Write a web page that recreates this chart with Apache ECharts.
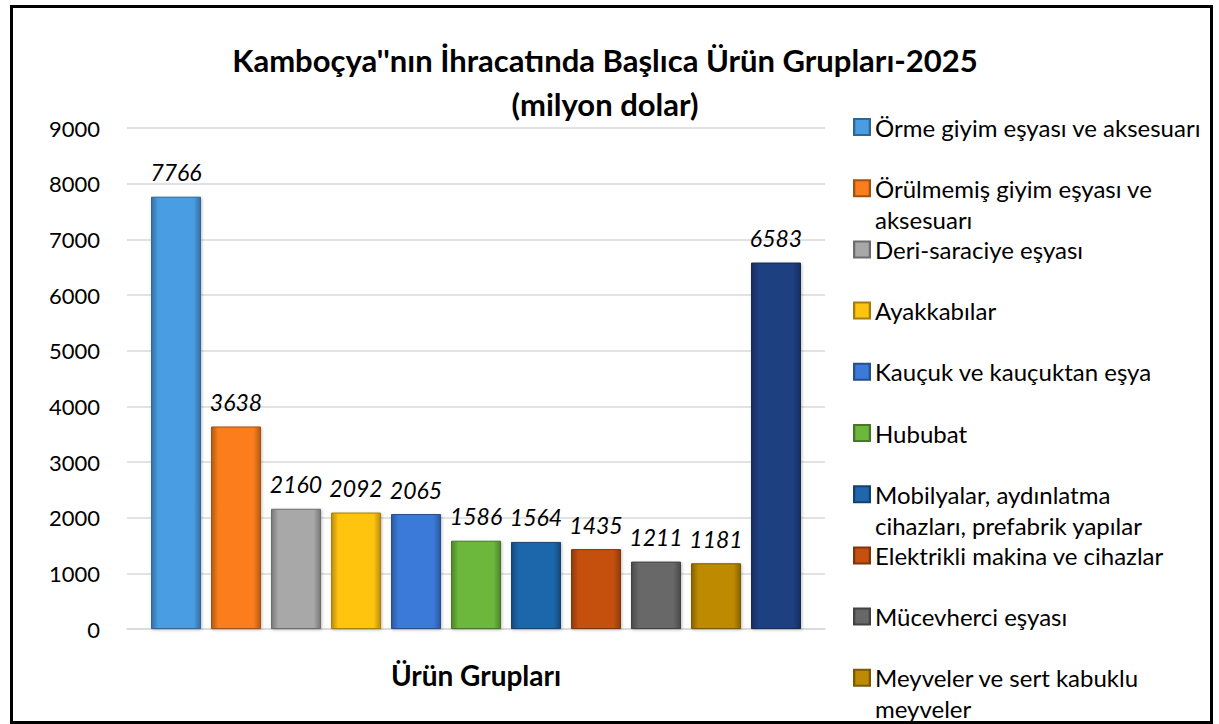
<!DOCTYPE html>
<html>
<head>
<meta charset="utf-8">
<title>Kamboçya ihracatı 2025</title>
<script src="https://cdn.jsdelivr.net/npm/echarts@6/dist/echarts.min.js"></script>
<style>
  html, body { margin: 0; padding: 0; background: #fff; }
  #chart { width: 1219px; height: 724px; }
</style>
</head>
<body>
<div id="chart"></div>
<script>
// --- data ---
var category = ['Ürün Grupları'];
var groups = [
  'Örme giyim eşyası ve aksesuarı',
  'Örülmemiş giyim eşyası ve aksesuarı',
  'Deri-saraciye eşyası',
  'Ayakkabılar',
  'Kauçuk ve kauçuktan eşya',
  'Hububat',
  'Mobilyalar, aydınlatma cihazları, prefabrik yapılar',
  'Elektrikli makina ve cihazlar',
  'Mücevherci eşyası',
  'Meyveler ve sert kabuklu meyveler',
  'Diğer'
];
// wrapped text as it appears in the legend
var legendText = [
  ['Örme giyim eşyası ve aksesuarı'],
  ['Örülmemiş giyim eşyası ve', 'aksesuarı'],
  ['Deri-saraciye eşyası'],
  ['Ayakkabılar'],
  ['Kauçuk ve kauçuktan eşya'],
  ['Hububat'],
  ['Mobilyalar, aydınlatma', 'cihazları, prefabrik yapılar'],
  ['Elektrikli makina ve cihazlar'],
  ['Mücevherci eşyası'],
  ['Meyveler ve sert kabuklu', 'meyveler']
];
var values = [7766, 3638, 2160, 2092, 2065, 1586, 1564, 1435, 1211, 1181, 6583];
var colors = ['#4a9de3', '#fb7d1c', '#a8a8a8', '#ffc410', '#3b7ad8', '#6cb83c',
              '#1f66ac', '#c5500f', '#676767', '#bd8a06', '#1f3f80'];
var yTicks = { min: 0, max: 9000, interval: 1000 };

var font = 'Lato, "Open Sans", sans-serif';

function shade(hex, f) {
  var n = parseInt(hex.slice(1), 16);
  var r = (n >> 16) & 255, g = (n >> 8) & 255, b = n & 255;
  r = Math.min(255, Math.round(r * f));
  g = Math.min(255, Math.round(g * f));
  b = Math.min(255, Math.round(b * f));
  return 'rgb(' + r + ',' + g + ',' + b + ')';
}

var series = groups.map(function (name, i) {
  var c = colors[i];
  return {
    name: name,
    type: 'bar',
    data: [values[i]],
    barWidth: 50,
    barGap: '20%',
    itemStyle: {
      color: {
        type: 'linear', x: 0, y: 0, x2: 1, y2: 0,
        colorStops: [
          { offset: 0, color: shade(c, 0.72) },
          { offset: 0.14, color: c },
          { offset: 0.86, color: c },
          { offset: 1, color: shade(c, 0.72) }
        ]
      },
      borderColor: shade(c, 0.65),
      borderWidth: 1,
      shadowColor: 'rgba(0,0,0,0.25)',
      shadowBlur: 3,
      shadowOffsetX: 1,
      shadowOffsetY: 1
    },
    label: {
      show: true,
      position: 'top',
      distance: 13,
      color: '#000',
      fontStyle: 'italic',
      fontFamily: font,
      fontSize: 23
    }
  };
});

// one legend block per entry so that every entry starts on an even step
var lineH = 31;
var legends = legendText.map(function (lines, i) {
  // a blank first line keeps the icon level with the first text line
  var txt = lines.length > 1 ? '\n' + lines.join('\n') : lines[0];
  var n = lines.length > 1 ? 3 : 1;
  return {
    orient: 'vertical',
    left: 853,
    top: 127 + i * 61.2 - n * lineH / 2,
    padding: 0,
    itemWidth: 16,
    itemHeight: 16,
    itemGap: 6,
    icon: 'rect',
    data: [groups[i]],
    formatter: function () { return txt; },
    textStyle: {
      color: '#000',
      fontFamily: font,
      fontSize: 24,
      lineHeight: lineH
    }
  };
});

var chart = echarts.init(document.getElementById('chart'), null, { renderer: 'svg' });
chart.setOption({
  animation: false,
  backgroundColor: '#fff',
  title: {
    text: "Kamboçya''nın İhracatında Başlıca Ürün Grupları-2025\n(milyon dolar)",
    left: 600,
    textAlign: 'center',
    top: 33,
    textStyle: {
      color: '#000',
      fontFamily: font,
      fontWeight: 'bold',
      fontSize: 31,
      lineHeight: 44
    }
  },
  legend: legends,
  grid: { left: 127, right: 394, top: 128, bottom: 95 },
  xAxis: {
    type: 'category',
    data: category,
    axisLine: { lineStyle: { color: '#d9d9d9', width: 1.5 } },
    axisTick: { show: false },
    axisLabel: {
      color: '#000',
      fontFamily: font,
      fontWeight: 'bold',
      fontSize: 28,
      margin: 32
    }
  },
  yAxis: {
    type: 'value',
    min: yTicks.min,
    max: yTicks.max,
    interval: yTicks.interval,
    axisLine: { show: false },
    axisTick: { show: false },
    splitLine: { lineStyle: { color: '#d9d9d9', width: 1.5 } },
    axisLabel: {
      color: '#000',
      fontFamily: font,
      fontSize: 22,
      margin: 27,
      formatter: function (v) { return String(v); }
    }
  },
  graphic: [{
    type: 'rect',
    left: 9,
    top: 4,
    shape: { width: 1200, height: 716 },
    style: { fill: 'none', stroke: '#000', lineWidth: 3 },
    silent: true
  }],
  series: series
});
</script>
</body>
</html>
